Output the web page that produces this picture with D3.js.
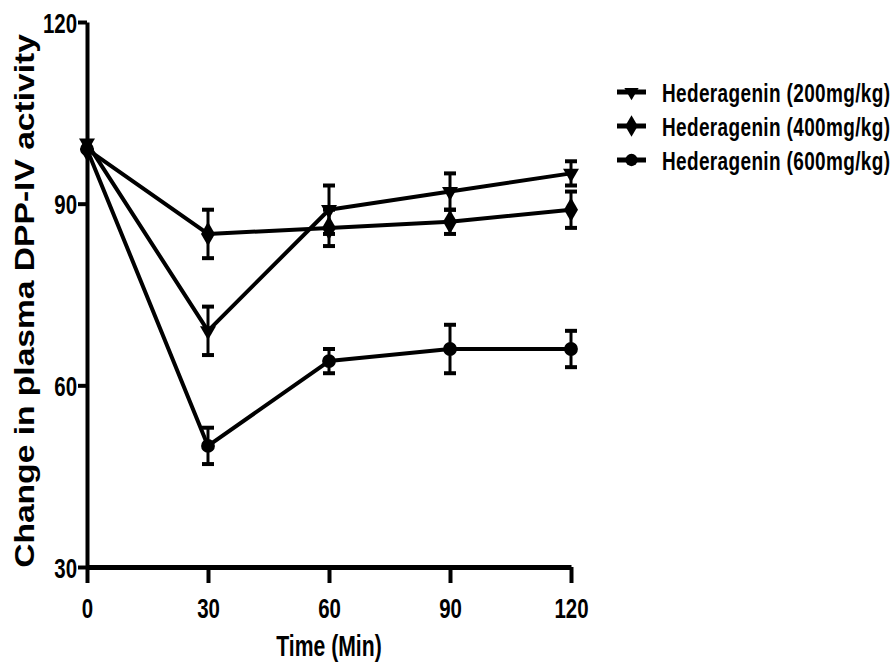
<!DOCTYPE html>
<html>
<head>
<meta charset="utf-8">
<script src="https://cdn.jsdelivr.net/npm/d3@7"></script>
<style>
  body { margin: 0; background: #fff; }
  svg { display: block; }
  text { font-family: "Liberation Sans", Arial, sans-serif; font-weight: bold; fill: #000; }
</style>
</head>
<body>
<svg id="chart" width="892" height="670"></svg>
<script>
// time points (min)
const times = [0, 30, 60, 90, 120];

// mean and SEM of each dose group
const mean200 = [100, 69, 89, 92, 95];
const sem200 = [0, 4, 4, 3, 2];
const mean400 = [99, 85, 86, 87, 89];
const sem400 = [0, 4, 3, 2, 3];
const mean600 = [99, 50, 64, 66, 66];
const sem600 = [0, 3, 2, 4, 3];

const seriesNames = ["Hederagenin (200mg/kg)", "Hederagenin (400mg/kg)", "Hederagenin (600mg/kg)"];
const xTicks = [0, 30, 60, 90, 120];
const yTicks = [30, 60, 90, 120];

// the original picture is squeezed sideways, so the type is too
const squeeze = 0.73;

const series = [
  { name: seriesNames[0], mean: mean200, sem: sem200, symbol: "triangle" },
  { name: seriesNames[1], mean: mean400, sem: sem400, symbol: "diamond" },
  { name: seriesNames[2], mean: mean600, sem: sem600, symbol: "circle" },
];

const svg = d3.select("#chart");

const x = d3.scaleLinear().domain([0, 120]).range([87, 571]);
const y = d3.scaleLinear().domain([30, 120]).range([567, 22]);

function markerPath(kind, scale = 1) {
  if (kind === "triangle") return d3.symbol(d3.symbolTriangle, 110 * scale)();
  if (kind === "diamond") return d3.symbol(d3.symbolDiamond, 170 * scale)();
  return d3.symbol(d3.symbolCircle, 150 * scale)();
}
function markerRot(kind) {
  return kind === "triangle" ? " rotate(180)" : "";
}

// Y axis
const yAxis = svg.append("g")
  .attr("transform", `translate(${x(0)},0)`)
  .call(d3.axisLeft(y).tickValues(yTicks).tickSize(9).tickSizeOuter(0).tickPadding(0));
yAxis.select(".domain").attr("stroke-width", 4);
yAxis.selectAll(".tick line").attr("stroke-width", 4);
yAxis.selectAll(".tick text")
  .attr("x", 0)
  .attr("dy", "0.36em")
  .attr("transform", `translate(-10,0) scale(${squeeze},1)`)
  .style("font-size", "28px")
  .attr("font-family", null);

// X axis
const xAxis = svg.append("g")
  .attr("transform", `translate(0,${y(30)})`)
  .call(d3.axisBottom(x).tickValues(xTicks).tickSize(16).tickSizeOuter(0));
xAxis.select(".domain").attr("stroke-width", 5);
xAxis.selectAll(".tick line").attr("stroke-width", 4);
xAxis.selectAll(".tick text")
  .attr("y", 51)
  .attr("dy", 0)
  .attr("transform", `scale(${squeeze},1)`)
  .style("font-size", "28px")
  .attr("font-family", null);

// axis titles
svg.append("text")
  .attr("transform", `translate(34,301) rotate(-90) scale(1,0.8)`)
  .attr("text-anchor", "middle")
  .style("font-size", "33.6px")
  .text("Change in plasma DPP-IV activity");

svg.append("text")
  .attr("transform", `translate(329,656) scale(${squeeze},1)`)
  .attr("text-anchor", "middle")
  .style("font-size", "29px")
  .text("Time (Min)");

// lines
const line = d3.line().x((d, i) => x(times[i])).y(d => y(d));

const plot = svg.append("g");
series.forEach(s => {
  const g = plot.append("g");
  g.append("path")
    .attr("d", line(s.mean))
    .attr("fill", "none")
    .attr("stroke", "#000")
    .attr("stroke-width", 4)
    .attr("stroke-linejoin", "round");

  // error bars
  const eb = g.selectAll("g.err")
    .data(s.mean.map((m, i) => ({ t: times[i], m, e: s.sem[i] })).filter(d => d.e > 0))
    .join("g").attr("class", "err");
  eb.append("line")
    .attr("x1", d => x(d.t)).attr("x2", d => x(d.t))
    .attr("y1", d => y(d.m + d.e)).attr("y2", d => y(d.m - d.e))
    .attr("stroke", "#000").attr("stroke-width", 3);
  [1, -1].forEach(sign => {
    eb.append("line")
      .attr("x1", d => x(d.t) - 6).attr("x2", d => x(d.t) + 6)
      .attr("y1", d => y(d.m + sign * d.e)).attr("y2", d => y(d.m + sign * d.e))
      .attr("stroke", "#000").attr("stroke-width", 4);
  });

  // markers
  g.selectAll("path.mk")
    .data(s.mean)
    .join("path")
    .attr("class", "mk")
    .attr("d", markerPath(s.symbol))
    .attr("transform", (d, i) => `translate(${x(times[i])},${y(d)})${markerRot(s.symbol)}`)
    .attr("fill", "#000");
});

// legend
const legendY = [92, 126, 160];
const legend = svg.append("g");
series.forEach((s, i) => {
  const row = legend.append("g").attr("transform", `translate(0,${legendY[i]})`);
  row.append("line")
    .attr("x1", 617).attr("x2", 646)
    .attr("stroke", "#000").attr("stroke-width", 5);
  row.append("path")
    .attr("d", markerPath(s.symbol, 0.8))
    .attr("transform", `translate(631.5,0)${markerRot(s.symbol)}`)
    .attr("fill", "#000");
  row.append("text")
    .attr("transform", `translate(662,9.5) scale(${squeeze},1)`)
    .style("font-size", "26px")
    .style("letter-spacing", "0.5px")
    .text(s.name);
});
</script>
</body>
</html>
